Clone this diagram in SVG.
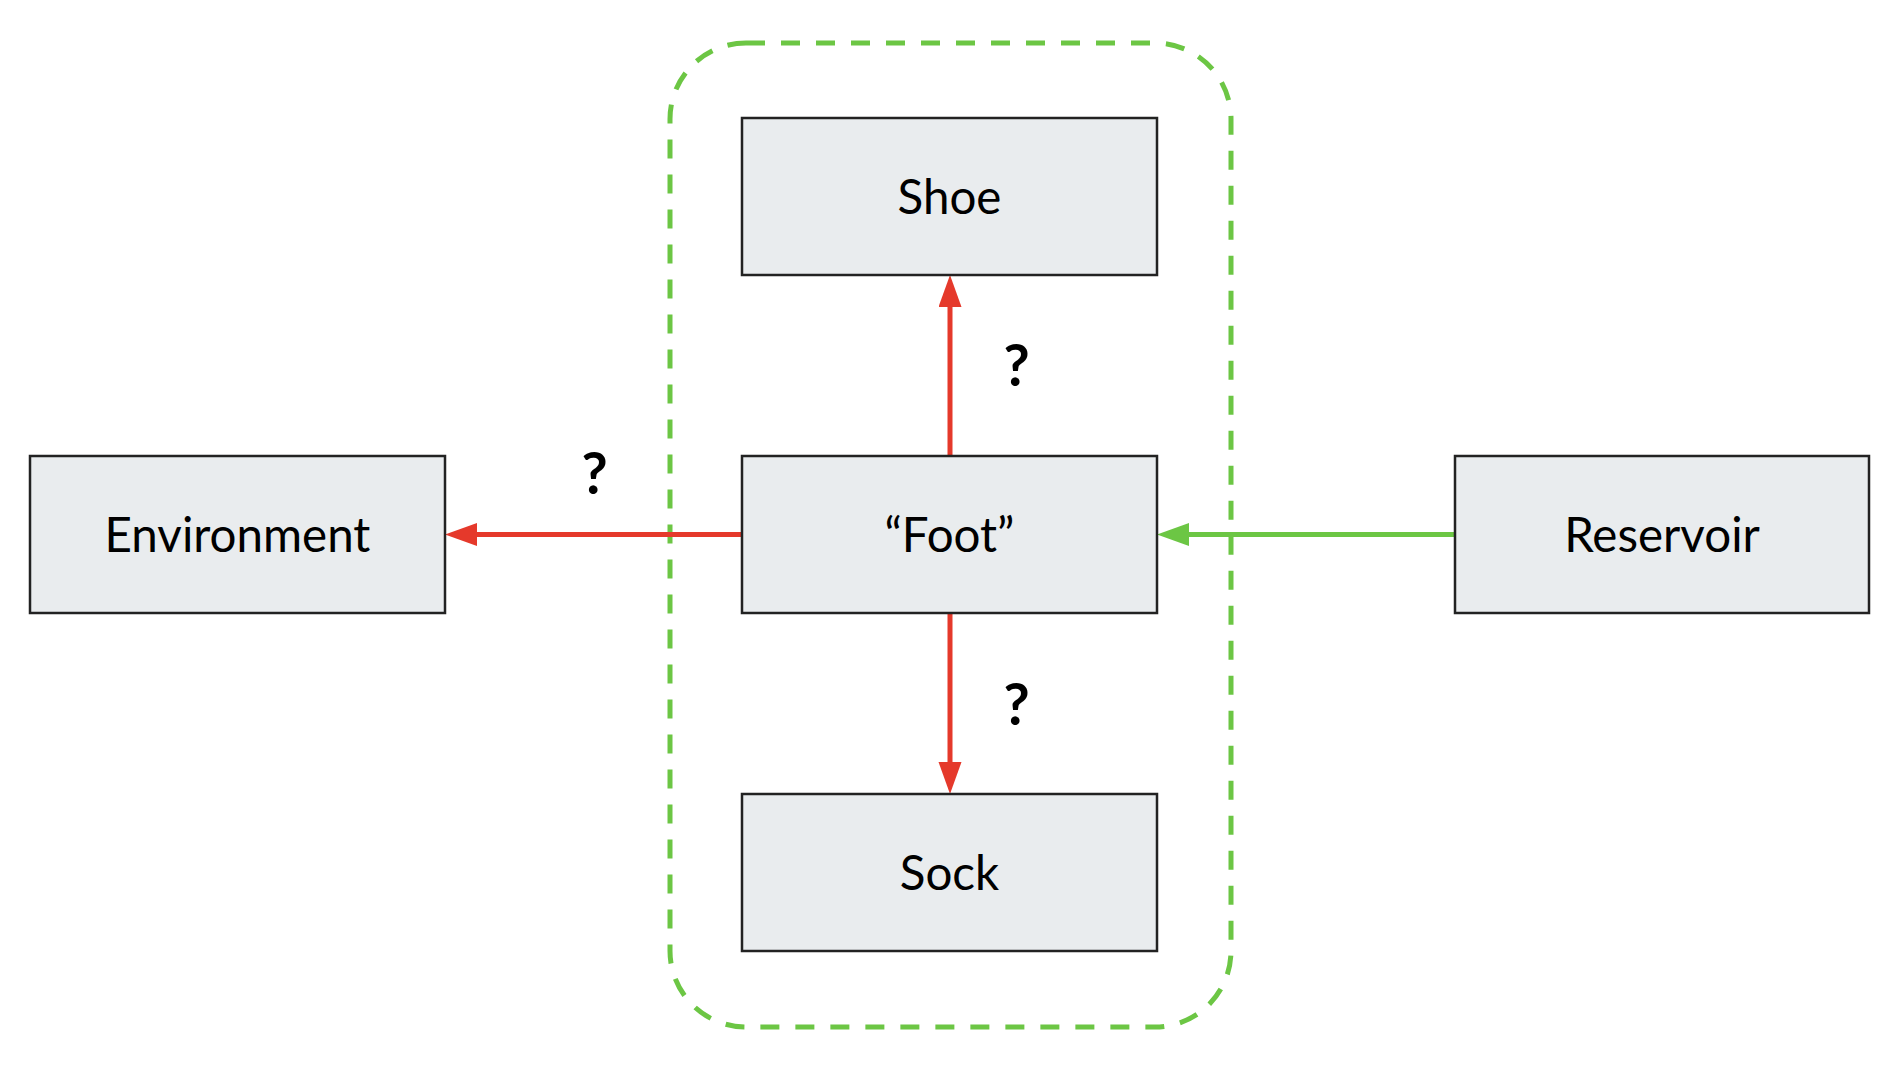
<svg xmlns="http://www.w3.org/2000/svg" width="1902" height="1070" viewBox="0 0 1902 1070">
  <style>
    .box { fill: #e9ecee; stroke: #222222; stroke-width: 2.5; }
    .lbl { font-family: Lato, "Liberation Sans", sans-serif; font-size: 47.5px; fill: #000000; text-anchor: middle; }
    .q { font-family: Lato, "Liberation Sans", sans-serif; font-size: 57px; font-weight: bold; fill: #000000; text-anchor: middle; }
    .red { stroke: #e5392b; stroke-width: 5; fill: none; }
    .green { stroke: #6cc644; stroke-width: 5; fill: none; }
  </style>
  <defs>
    <marker id="ahRed" markerUnits="userSpaceOnUse" markerWidth="33" markerHeight="24" refX="0" refY="11.5" orient="auto" viewBox="0 0 33 24">
      <path d="M0,0 L32,11.5 L0,23 z" fill="#e5392b"/>
    </marker>
    <marker id="ahGreen" markerUnits="userSpaceOnUse" markerWidth="33" markerHeight="24" refX="0" refY="11.5" orient="auto" viewBox="0 0 33 24">
      <path d="M0,0 L32,11.5 L0,23 z" fill="#6cc644"/>
    </marker>
  </defs>
  <rect x="0" y="0" width="1902" height="1070" fill="#ffffff"/>
  <g id="boundary">
    <rect x="670" y="43" width="561" height="984" rx="76" ry="76" fill="none" stroke="#6cc644" stroke-width="5" stroke-dasharray="19 16"/>
  </g>
  <g id="connectors">
    <line class="red" x1="950" y1="456" x2="950" y2="307" marker-end="url(#ahRed)"/>
    <line class="red" x1="950" y1="613" x2="950" y2="762" marker-end="url(#ahRed)"/>
    <line class="red" x1="742" y1="534.5" x2="477" y2="534.5" marker-end="url(#ahRed)"/>
    <line class="green" x1="1455" y1="534.5" x2="1189" y2="534.5" marker-end="url(#ahGreen)"/>
    <text class="q" x="1016.5" y="386">?</text>
    <text class="q" x="1016.5" y="725">?</text>
    <text class="q" x="594.5" y="494">?</text>
  </g>
  <g id="shoe">
    <rect class="box" x="742" y="118" width="415" height="157"/>
    <text class="lbl" x="949.5" y="213.5">Shoe</text>
  </g>
  <g id="foot">
    <rect class="box" x="742" y="456" width="415" height="157"/>
    <text class="lbl" x="949.5" y="552">“Foot”</text>
  </g>
  <g id="sock">
    <rect class="box" x="742" y="794" width="415" height="157"/>
    <text class="lbl" x="949.5" y="890">Sock</text>
  </g>
  <g id="environment">
    <rect class="box" x="30" y="456" width="415" height="157"/>
    <text class="lbl" x="237.5" y="552">Environment</text>
  </g>
  <g id="reservoir">
    <rect class="box" x="1455" y="456" width="414" height="157"/>
    <text class="lbl" x="1662" y="552">Reservoir</text>
  </g>
</svg>
